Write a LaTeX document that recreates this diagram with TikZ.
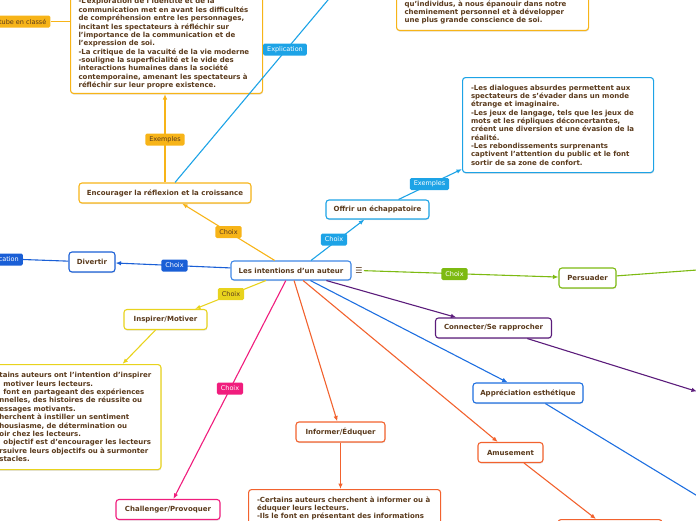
\documentclass[tikz,border=0pt]{standalone}
\usepackage{fontspec}
\setmainfont{DejaVu Sans}
\usetikzlibrary{arrows.meta,shadows,calc}
\definecolor{brn}{HTML}{5A3A1C}
\definecolor{corange}{HTML}{F7B418}
\definecolor{clblue}{HTML}{1DA3E6}
\definecolor{cblue}{HTML}{3F87E6}
\definecolor{cdblue}{HTML}{1A5FD6}
\definecolor{cablue}{HTML}{1E6FE0}
\definecolor{cyellow}{HTML}{E8D31D}
\definecolor{cpink}{HTML}{F01D7D}
\definecolor{cred}{HTML}{F2622E}
\definecolor{cpurple}{HTML}{5B1C7B}
\definecolor{cgreen}{HTML}{7DBA12}
\begin{document}
\begin{tikzpicture}[x=1pt,y=-1pt,
  box/.style={draw, rounded corners=3pt, fill=white, line width=1.1pt,
    font=\bfseries\fontsize{7}{8.35}\selectfont, text=brn, inner sep=0pt,
    drop shadow={shadow xshift=0.4pt, shadow yshift=-1.2pt, opacity=0.22}},
  txtbox/.style={box, align=left, inner xsep=8pt, inner ysep=6pt},
  lab/.style={rounded corners=1.5pt, font=\fontsize{6.5}{7}\selectfont,
    inner xsep=4pt, inner ysep=0pt, minimum height=12pt, text=white},
  con/.style={line width=1.1pt, -{Latex[length=5.5pt,width=4.5pt]}},
  lin/.style={line width=1.1pt}]
\useasboundingbox (0,0) rectangle (696,520);
\clip (0,0) rectangle (696,520);

% main nodes
\node[box, draw=cblue, minimum width=120pt, minimum height=19pt] (central) at (291,270.5) {Les intentions d'un auteur};
\node[font=\fontsize{8}{9}\selectfont, text=brn, inner sep=1pt] (menu) at (359,270.5) {☰};
\node[box, draw=corange, minimum width=172pt, minimum height=20pt] (enc) at (165,193) {Encourager la réflexion et la croissance};
\node[box, draw=clblue, minimum width=103pt, minimum height=19pt] (offrir) at (377.5,209.5) {Offrir un échappatoire};
\node[box, draw=cdblue, minimum width=46pt, minimum height=20pt] (div) at (92,262) {Divertir};
\node[box, draw=cyellow, minimum width=83pt, minimum height=20pt] (insp) at (165.5,319.5) {Inspirer/Motiver};
\node[box, draw=cpink, minimum width=104pt, minimum height=20pt] (chal) at (168,509.5) {Challenger/Provoquer};
\node[box, draw=cred, minimum width=89pt, minimum height=20pt] (inf) at (340.5,432) {Informer/Éduquer};
\node[box, draw=cred, minimum width=65pt, minimum height=20pt] (amu) at (510.5,452.5) {Amusement};
\node[box, draw=cablue, minimum width=110pt, minimum height=20pt] (app) at (528,393) {Appréciation esthétique};
\node[box, draw=cpurple, minimum width=116pt, minimum height=20pt] (conn) at (493.5,328) {Connecter/Se rapprocher};
\node[box, draw=cgreen, minimum width=57pt, minimum height=20pt] (pers) at (587.5,278) {Persuader};
\node[box, draw=cred, minimum width=104pt, minimum height=20pt, anchor=north] (bot) at (610,519) {};

% text boxes
\node[txtbox, draw=corange, text width=176pt, inner ysep=4.5pt, anchor=south west] (tl) at (70,94) {%
-L'exploration de l'identité et de la\\
communication met en avant les difficultés\\
de compréhension entre les personnages,\\
incitant les spectateurs à réfléchir sur\\
l'importance de la communication et de\\
l'expression de soi.\\
-La critique de la vacuité de la vie moderne\\
-souligne la superficialité et le vide des\\
interactions humaines dans la société\\
contemporaine, amenant les spectateurs à\\
réfléchir sur leur propre existence.};

\node[txtbox, draw=corange, text width=176pt, anchor=south west] (top) at (396,31) {%
qu'individus, à nous épanouir dans notre\\
cheminement personnel et à développer\\
une plus grande conscience de soi.};

\node[txtbox, draw=clblue, text width=174pt, inner xsep=8.5pt, minimum height=95pt, anchor=north west] (ex2) at (462,77) {%
-Les dialogues absurdes permettent aux\\
spectateurs de s'évader dans un monde\\
étrange et imaginaire.\\
-Les jeux de langage, tels que les jeux de\\
mots et les répliques déconcertantes,\\
créent une diversion et une évasion de la\\
réalité.\\
-Les rebondissements surprenants\\
captivent l'attention du public et le font\\
sortir de sa zone de confort.};

\node[txtbox, draw=cyellow, text width=153.5pt, minimum height=105pt, anchor=north east] (ex1) at (161.5,364) {%
tains auteurs ont l'intention d'inspirer\\
\hspace*{4pt}motiver leurs lecteurs.\\
\hspace*{4pt}font en partageant des expériences\\
nnelles, des histoires de réussite ou\\
essages motivants.\\
herchent à instiller un sentiment\\
housiasme, de détermination ou\\
oir chez les lecteurs.\\
\hspace*{4pt}objectif est d'encourager les lecteurs\\
rsuivre leurs objectifs ou à surmonter\\
stacles.};

\node[txtbox, draw=cred, text width=175pt, inner xsep=8.5pt, inner ysep=7pt, anchor=north west] (ex3) at (248,489) {%
-Certains auteurs cherchent à informer ou à\\
éduquer leurs lecteurs.\\
-Ils le font en présentant des informations\\
\strut};

% free ends
\coordinate (eA) at (333,-6);
\coordinate (eB) at (700,497.5);
\coordinate (eC) at (697,391.5);
\coordinate (eD) at (700,269.8);

% side labels (cut at the left border)
\node[lab, fill=corange, text=brn, anchor=east] (tube) at (50.5,21.5) {tube en classé};
\node[lab, fill=cdblue, anchor=east] (expl2) at (23,259.5) {cation};

% connectors
\draw[con, corange] (central) -- (enc);
\draw[con, clblue] ([xshift=20pt]central.north) -- (offrir);
\draw[con, cdblue] (central) -- (div);
\draw[con, cyellow] (central) -- ([xshift=29.5pt]insp.north);
\draw[con, cpink] (central) -- (chal);
\draw[con, cred] (central) -- (inf);
\draw[con, cred] (central) -- (amu);
\draw[con, cablue] (central) -- (app);
\draw[con, cpurple] (central) -- (conn);
\draw[con, cgreen] (menu) -- (pers);

\draw[con, corange] (enc.north) -- (enc.north |- tl.south);
\draw[lin, clblue] ([xshift=10pt]enc.north) -- (eA);
\draw[lin, corange] (tube.east) -- (tube.east -| tl.west);
\draw[con, clblue] ([xshift=21pt]offrir.north) -- ([yshift=4pt]ex2.south west);
\draw[lin, cdblue] (div) -- (expl2.east);
\draw[con, cyellow] ([xshift=-10pt]insp.south) -- ([xshift=-39pt]ex1.north east);
\draw[con, cred] (inf.south) -- (inf.south |- ex3.north);
\draw[con, cred] (amu) -- ([xshift=-14pt]bot.north);
\draw[lin, cablue] (app) -- (eB);
\draw[con, cpurple] (conn) -- (eC);
\draw[lin, cgreen] (pers) -- (eD);

% connector labels
\node[lab, fill=corange, text=brn] (l1) at (228.5,232) {Choix};
\node[lab, fill=clblue] (l2) at (334,239.5) {Choix};
\node[lab, fill=cdblue] (l3) at (174.5,265.5) {Choix};
\node[lab, fill=cyellow, text=brn] (l4) at (231,294) {Choix};
\node[lab, fill=cpink] (l5) at (230,388.5) {Choix};
\node[lab, fill=cgreen] (l6) at (454.5,274) {Choix};
\node[lab, fill=corange, text=brn] (l7) at (165,139.5) {Exemples};
\node[lab, fill=clblue] (l8) at (429.5,184) {Exemples};
\node[lab, fill=clblue] (l9) at (285,49.5) {Explication};
\end{tikzpicture}
\end{document}
